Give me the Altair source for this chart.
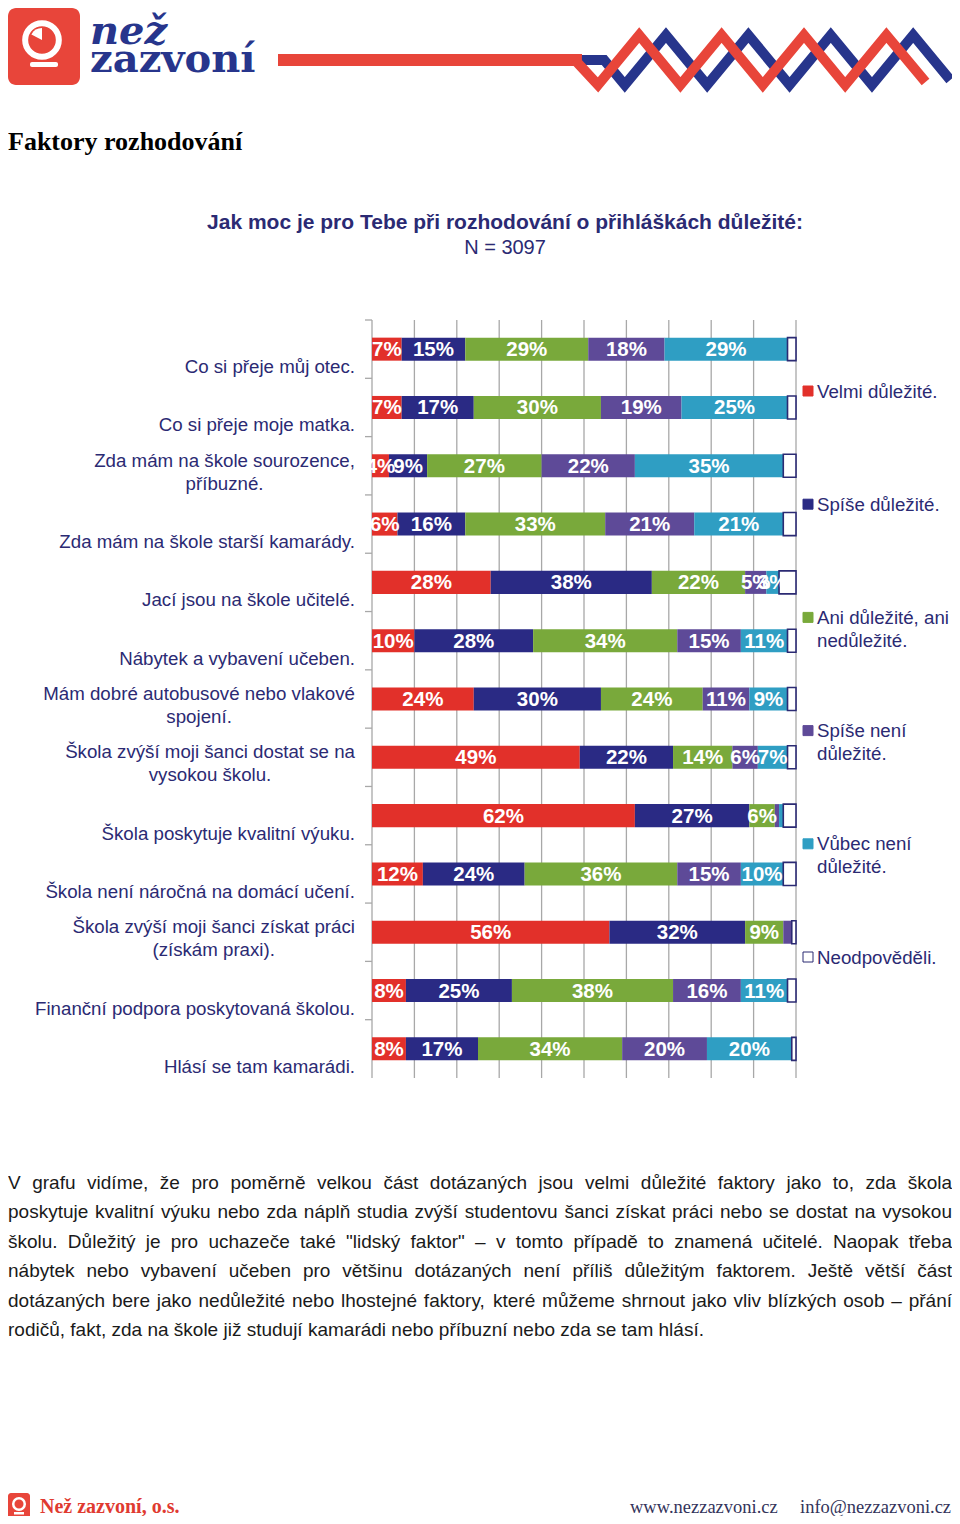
import altair as alt
import pandas as pd
import unicodedata

# ---------------- data ----------------
factors = [
    "Co si přeje můj otec.",
    "Co si přeje moje matka.",
    "Zda mám na škole sourozence,|příbuzné.",
    "Zda mám na škole starší kamarády.",
    "Jací jsou na škole učitelé.",
    "Nábytek a vybavení učeben.",
    "Mám dobré autobusové nebo vlakové|spojení.",
    "Škola zvýší moji šanci dostat se na|vysokou školu.",
    "Škola poskytuje kvalitní výuku.",
    "Škola není náročná na domácí učení.",
    "Škola zvýší moji šanci získat práci|(získám praxi).",
    "Finanční podpora poskytovaná školou.",
    "Hlásí se tam kamarádi.",
]
cats = ["Velmi důležité.", "Spíše důležité.", "Ani důležité, ani nedůležité.",
        "Spíše není důležité.", "Vůbec není důležité.", "Neodpověděli."]
legend_labels = ["Velmi důležité.", "Spíše důležité.", "Ani důležité, ani|nedůležité.",
                 "Spíše není|důležité.", "Vůbec není|důležité.", "Neodpověděli."]

velmi    = [7, 7, 4, 6, 28, 10, 24, 49, 62, 12, 56, 8, 8]
spise    = [15, 17, 9, 16, 38, 28, 30, 22, 27, 24, 32, 25, 17]
ani      = [29, 30, 27, 33, 22, 34, 24, 14, 6, 36, 9, 38, 34]
spise_ne = [18, 19, 22, 21, 5, 15, 11, 6, 1, 15, 2, 16, 20]
vubec    = [29, 25, 35, 21, 3, 11, 9, 7, 1, 10, 0, 11, 20]
neodp    = [2, 2, 3, 3, 4, 2, 2, 2, 3, 3, 1, 2, 1]

grid_vals = [0, 10, 20, 30, 40, 50, 60, 70, 80, 90, 100]

paragraph = [
    "V grafu vidíme, že pro poměrně velkou část dotázaných jsou velmi důležité faktory jako to, zda škola",
    "poskytuje kvalitní výuku nebo zda náplň studia zvýší studentovu šanci získat práci nebo se dostat na vysokou",
    "školu. Důležitý je pro uchazeče také \"lidský faktor\" –  v tomto případě to znamená učitelé. Naopak třeba",
    "nábytek nebo vybavení učeben pro většinu dotázaných není příliš důležitým faktorem. Ještě větší část",
    "dotázaných bere jako nedůležité nebo lhostejné faktory, které můžeme shrnout jako vliv blízkých osob – přání",
    "rodičů, fakt, zda na škole již studují kamarádi nebo příbuzní nebo zda se tam hlásí.",
]

# header zigzag pattern (index along the zigzag, level 0 = trough, 1 = peak)
red_k = [-0.56, 0, 1, 2, 3, 4, 5, 6, 7, 7.95]
red_lv = [0.5, 0, 1, 0, 1, 0, 1, 0, 1, 0.06]
blue_k = [-0.39, 0.15, 0.65, 1.65, 2.65, 3.65, 4.65, 5.65, 6.65, 7.65, 8.55]
blue_lv = [0.5, 0.5, 0, 1, 0, 1, 0, 1, 0, 1, 0.1]

# ---------------- styles ----------------
colors = ["#e2302a", "#2a2a84", "#79a93b", "#5e4a98", "#2f9ec3"]
NAVY = "#2b2a73"
LOGO_RED = "#e8453a"
LOGO_BLUE = "#27358c"
SANS = "Liberation Sans"
SERIF = "Liberation Serif"

# Liberation Sans (Arial metrics) widths per 1000 em
AW = {' ': 278, '!': 278, '"': 355, '(': 333, ')': 333, ',': 278, '-': 333, '.': 278, ':': 278,
      '–': 556, 'A': 667, 'B': 667, 'C': 722, 'D': 722, 'E': 667, 'F': 611, 'G': 778, 'H': 722,
      'I': 278, 'J': 500, 'K': 667, 'L': 556, 'M': 833, 'N': 722, 'O': 778, 'P': 667, 'R': 722,
      'S': 667, 'T': 611, 'U': 722, 'V': 667, 'W': 944, 'Z': 611,
      'a': 556, 'b': 556, 'c': 500, 'd': 556, 'e': 556, 'f': 278, 'g': 556, 'h': 556, 'i': 222,
      'j': 222, 'k': 500, 'l': 222, 'm': 833, 'n': 556, 'o': 556, 'p': 556, 'q': 556, 'r': 333,
      's': 500, 't': 278, 'u': 556, 'v': 500, 'w': 722, 'x': 500, 'y': 500, 'z': 500, 'í': 278}


def tw(s, size):
    tot = 0
    for ch in s:
        if ch in AW:
            tot += AW[ch]
        else:
            b = unicodedata.normalize('NFD', ch)[0]
            tot += AW.get(b, 556)
    return tot * size / 1000.0


one = pd.DataFrame({'a': [0]})


def txt(s, x, y, **kw):
    return alt.Chart(one).mark_text(text=s, **kw).encode(x=alt.value(x), y=alt.value(y))


def box(x, x2, y, y2, color, r=0):
    return alt.Chart(one).mark_rect(color=color, cornerRadius=r).encode(
        x=alt.value(x), x2=alt.value(x2), y=alt.value(y), y2=alt.value(y2))


# ---------------- main bar chart ----------------
series = [velmi, spise, ani, spise_ne, vubec, neodp]
rows = []
for i, f in enumerate(factors):
    for j, c in enumerate(cats):
        rows.append({'factor': f, 'cat': c, 'order': j, 'value': series[j][i]})
df = pd.DataFrame(rows)

xs = alt.Scale(domain=[0, 100], range=[364, 788])
ys = alt.Scale(domain=factors, range=[312, 1070], paddingInner=0.605, paddingOuter=0.3025)

base = alt.Chart(df).transform_stack(
    stack='value', groupby=['factor'], as_=['x0', 'x1'],
    sort=[alt.SortField('order', order='ascending')])

grid = alt.Chart(pd.DataFrame({'g': grid_vals})).mark_rule(color='#a8a8a8', strokeWidth=1.3).encode(
    x=alt.X('g:Q', scale=xs, axis=None), y=alt.value(312), y2=alt.value(1070))

bars = base.transform_filter('datum.order < 5').mark_bar().encode(
    x=alt.X('x0:Q', scale=xs, axis=None), x2='x1:Q',
    y=alt.Y('factor:N', scale=ys, axis=None),
    color=alt.Color('cat:N', scale=alt.Scale(domain=cats[:5], range=colors), legend=None))

neod_bars = base.transform_filter('datum.order == 5').mark_bar(
    fill='white', stroke=NAVY, strokeWidth=1.6).encode(
    x=alt.X('x0:Q', scale=xs, axis=None), x2='x1:Q',
    y=alt.Y('factor:N', scale=ys, axis=None))

bar_labels = base.transform_filter('datum.order < 5 && datum.value >= 3').transform_calculate(
    mid='(datum.x0 + datum.x1) / 2', lab="datum.value + '%'").mark_text(
    font=SANS, fontSize=20.5, fontWeight='bold', color='white', baseline='middle', dy=1).encode(
    x=alt.X('mid:Q', scale=xs, axis=None),
    y=alt.Y('factor:N', scale=ys, axis=None),
    text='lab:N')

bar_group = alt.layer(grid, bars, neod_bars, bar_labels)

# ---------------- category labels ----------------
LAB_SIZE = 18.7
ylab = []
for f in factors:
    lines = f.split('|')
    w = max(tw(l, LAB_SIZE) for l in lines)
    ylab.append({'factor': f, 'n': len(lines), 'lx': 347 - w / 2})
ylab_df = pd.DataFrame(ylab)
ysl = alt.Scale(domain=factors, range=[312, 1070], paddingInner=0, paddingOuter=0)

ticks = alt.Chart(ylab_df).mark_rule(color='#a8a8a8', strokeWidth=1.3).encode(
    x=alt.value(357), x2=alt.value(364),
    y=alt.Y('factor:N', scale=ysl, axis=None, bandPosition=0))
tick_end = alt.Chart(one).mark_rule(color='#a8a8a8', strokeWidth=1.3).encode(
    x=alt.value(357), x2=alt.value(364), y=alt.value(1070))

ylab_single = alt.Chart(ylab_df).transform_filter('datum.n == 1').mark_text(
    align='right', baseline='bottom', dy=28, font=SANS, fontSize=LAB_SIZE, color=NAVY).encode(
    x=alt.value(347),
    y=alt.Y('factor:N', scale=ysl, axis=None),
    text='factor:N')

ylab_multi = alt.Chart(ylab_df).transform_filter('datum.n == 2').transform_calculate(
    lines="split(datum.factor, '|')").mark_text(
    align='center', baseline='bottom', dy=5, lineHeight=23, font=SANS, fontSize=LAB_SIZE,
    color=NAVY).encode(
    x=alt.X('lx:Q', scale=None),
    y=alt.Y('factor:N', scale=ysl, axis=None),
    text='lines:N')

ylab_group = alt.layer(ticks, ylab_single, ylab_multi)

# ---------------- legend ----------------
leg_df = pd.DataFrame({'cat': cats, 'label': legend_labels})
yl = alt.Scale(type='point', domain=cats, range=[383, 949], padding=0)
leg_sq = alt.Chart(leg_df).mark_square(size=100, strokeWidth=1, opacity=1).encode(
    x=alt.value(800),
    y=alt.Y('cat:N', scale=yl, axis=None),
    fill=alt.Fill('cat:N', scale=alt.Scale(domain=cats, range=colors + ['white']), legend=None),
    stroke=alt.Stroke('cat:N', scale=alt.Scale(domain=cats, range=colors + [NAVY]), legend=None))
leg_txt = alt.Chart(leg_df).transform_calculate(lines="split(datum.label, '|')").mark_text(
    align='left', baseline='alphabetic', dy=6.5, lineHeight=23, font=SANS, fontSize=LAB_SIZE,
    color=NAVY).encode(
    x=alt.value(809), y=alt.Y('cat:N', scale=yl, axis=None), text='lines:N')
leg_group = alt.layer(leg_sq, leg_txt)

# ---------------- header zigzag ----------------
zig_df = pd.DataFrame(
    [{'s': 'blue', 'k': k, 'lv': l, 'i': n} for n, (k, l) in enumerate(zip(blue_k, blue_lv))] +
    [{'s': 'red', 'k': k, 'lv': l, 'i': n} for n, (k, l) in enumerate(zip(red_k, red_lv))])
zx = alt.Scale(domain=[0, 8], range=[590, 919.6])
zy = alt.Scale(domain=[0, 1], range=[77, 27])
zig_blue = alt.Chart(zig_df).transform_filter("datum.s == 'blue'").mark_line(
    color=LOGO_BLUE, strokeWidth=10, strokeJoin='miter', strokeCap='butt').encode(
    x=alt.X('k:Q', scale=zx, axis=None), y=alt.Y('lv:Q', scale=zy, axis=None), order='i:Q')
zig_red = alt.Chart(zig_df).transform_filter("datum.s == 'red'").mark_line(
    color=LOGO_RED, strokeWidth=10, strokeJoin='miter', strokeCap='butt').encode(
    x=alt.X('k:Q', scale=zx, axis=None), y=alt.Y('lv:Q', scale=zy, axis=None), order='i:Q')
zig_group = alt.layer(zig_blue, zig_red)

# ---------------- paragraph (justified) ----------------
P_SIZE = 19
P_LEFT, P_RIGHT = 0, 944
words = []
for li, line in enumerate(paragraph):
    ws = [w for w in line.split(' ') if w]
    widths = [tw(w, P_SIZE) for w in ws]
    if li < len(paragraph) - 1 and len(ws) > 1:
        gap = (P_RIGHT - P_LEFT - sum(widths)) / (len(ws) - 1)
    else:
        gap = tw(' ', P_SIZE)
    x = P_LEFT
    for w, wd in zip(ws, widths):
        words.append({'w': w, 'x': x, 'y': 1181 + 29.4 * li})
        x += wd + gap
words_df = pd.DataFrame(words)
para = alt.Chart(words_df).mark_text(
    align='left', baseline='alphabetic', font=SANS, fontSize=P_SIZE, color='#1a1a1a').encode(
    x=alt.X('x:Q', scale=None), y=alt.Y('y:Q', scale=None), text='w:N')

# ---------------- decorations & titles ----------------
logo = [
    box(0, 72, 0, 77, LOGO_RED, 8),
    alt.Chart(one).mark_point(shape='circle', filled=False, stroke='white', strokeWidth=6,
                              size=1134, opacity=1).encode(x=alt.value(34), y=alt.value(32)),
    alt.Chart(one).mark_arc(theta=5.2, theta2=6.283, radius=12, fill='white').encode(
        x=alt.value(34), y=alt.value(32)),
    box(22, 50, 54, 59, 'white', 2),
    txt("než", 82, 36, font="DejaVu Serif", fontWeight='bold', fontStyle='italic', fontSize=40,
        color=LOGO_BLUE, align='left', baseline='alphabetic'),
    txt("zazvoní", 82, 64, font="DejaVu Serif", fontWeight='bold', fontSize=40,
        color=LOGO_BLUE, align='left', baseline='alphabetic'),
    box(270, 574, 46, 58, LOGO_RED),
]

titles = [
    txt("Faktory rozhodování", 0, 142, font=SERIF, fontWeight='bold', fontSize=26,
        color='black', align='left', baseline='alphabetic'),
    txt("Jak moc je pro Tebe při rozhodování o přihláškách důležité:", 497, 221, font=SANS,
        fontWeight='bold', fontSize=21, color=NAVY, align='center', baseline='alphabetic'),
    txt("N = 3097", 497, 246, font=SANS, fontSize=20, color=NAVY, align='center',
        baseline='alphabetic'),
]

footer = [
    box(0, 22, 1485, 1512, LOGO_RED, 3),
    alt.Chart(one).mark_point(shape='circle', filled=False, stroke='white', strokeWidth=2.5,
                              size=133, opacity=1).encode(x=alt.value(11), y=alt.value(1496)),
    box(6, 16, 1504, 1506.5, 'white'),
    txt("Než zazvoní, o.s.", 32, 1505, font=SERIF, fontWeight='bold', fontSize=20,
        color='#e03a30', align='left', baseline='alphabetic'),
    txt("www.nezzazvoni.cz", 622, 1505, font=SERIF, fontSize=18.5, color='#33335a',
        align='left', baseline='alphabetic'),
    txt("info@nezzazvoni.cz", 792, 1505, font=SERIF, fontSize=18.5, color='#33335a',
        align='left', baseline='alphabetic'),
]

chart = alt.layer(
    *logo, zig_group, *titles, bar_group, ylab_group, leg_group, para, *footer
).resolve_scale(
    x='independent', y='independent', color='independent', fill='independent',
    stroke='independent'
).properties(
    width=944, height=1508, padding=0, autosize='none', background='white'
).configure_view(stroke=None)

chart.save("out.html", embed_options={"renderer": "svg", "actions": False})
